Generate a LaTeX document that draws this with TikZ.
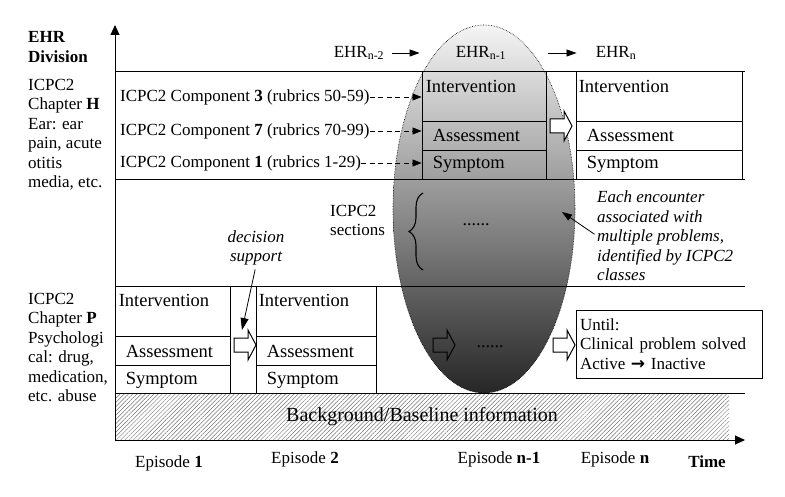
\documentclass[tikz,border=0pt]{standalone}
\usepackage{fontspec}
\setmainfont{Liberation Serif}
\newfontfamily\dejavu{DejaVu Sans}
\usetikzlibrary{arrows.meta,shapes.geometric,patterns.meta,decorations.pathreplacing,calc}
\begin{document}
\begin{tikzpicture}[x=1pt,y=-1pt,
  every node/.style={inner sep=0pt, font=\fontsize{17}{19.4}\selectfont},
  it/.style={font=\fontsize{17}{19.4}\selectfont\itshape},
  boxlbl/.style={anchor=west, font=\fontsize{18.5}{21}\selectfont},
  cell/.style={draw, line width=0.9pt, inner sep=0pt},
  rule/.style={line width=0.9pt},
  arr/.style={line width=0.8pt, -{Triangle[length=10pt,width=7pt]}},
  dasharr/.style={line width=0.8pt, dash pattern=on 5pt off 3.5pt, -{Triangle[length=9pt,width=7pt]}},
  axis/.style={line width=1pt, -{Triangle[length=10pt,width=9pt]}},
  pics/harrow/.style={code={\draw[line width=1pt, fill=#1] (0,-7) -- (14,-7) -- (14,-15) -- (22,0) -- (14,15) -- (14,7) -- (0,7) -- cycle;}}
]
\useasboundingbox (0,0) rectangle (785,497);

% shaded ellipse
\node[ellipse, draw, densely dotted, line width=0.6pt, minimum width=182pt, minimum height=368pt,
  top color=black!4, middle color=black!25, bottom color=black!85] (ell) at (484,209) {};

% hatched background
\fill[pattern={Lines[angle=45, distance=3pt, line width=0.5pt]}, pattern color=black!55] (115,393) rectangle (729,440);
\node[font=\fontsize{20}{22}\selectfont] (bg) at (422,417) {Background/Baseline information};

% horizontal rules
\draw[rule] (115,71) -- (745,71);
\draw[rule] (115,179) -- (745,179);
\draw[rule] (115,286) -- (745,286);
\draw[rule] (115,393) -- (745,393);

% axes
\coordinate (O) at (115,440);
\coordinate (ytip) at (115,25);
\coordinate (xtip) at (745,440);
\draw[axis] (O) -- (ytip);
\draw[axis] (O) -- (xtip);

% left labels
\node[anchor=north west, align=left, font=\fontsize{17}{20}\selectfont\bfseries] (hdiv) at (28,31) {EHR\\Division};
\node[anchor=north west, align=left] (hlab) at (28,79) {ICPC2\\Chapter \textbf{H}\\Ear: ear\\pain, acute\\otitis\\media, etc.};
\node[anchor=north west, align=left] (plab) at (28,293) {ICPC2\\Chapter \textbf{P}\\Psychologi\\cal: drug,\\medication,\\etc. abuse};

% EHR labels
\node (e2) at (359,53) {EHR\textsubscript{n-2}};
\node (e1) at (481,53) {EHR\textsubscript{n-1}};
\node (en) at (616,53) {EHR\textsubscript{n}};
\draw[arr, shorten <=8pt, shorten >=36pt] (e2.east) -- (e1.west);
\draw[arr, shorten <=42pt, shorten >=19pt] (e1.east) -- (en.west);

% EHR n-1 box
\node[cell, minimum width=124pt, minimum height=50pt] (ai) at (484,96) {};
\node[cell, minimum width=124pt, minimum height=29pt] (aa) at (484,135.5) {};
\node[cell, minimum width=124pt, minimum height=29pt] (as) at (484,164.5) {};
\node[boxlbl] (ait) at ($(ai.north west)+(4,16)$) {Intervention};
\node[boxlbl] (aat) at ($(aa.west)+(11,0)$) {Assessment};
\node[boxlbl] (ast) at ($(as.west)+(11,0)$) {Symptom};

% EHR n box
\node[cell, minimum width=166pt, minimum height=50pt] (bi) at (659,96) {};
\node[cell, minimum width=166pt, minimum height=29pt] (ba) at (659,135.5) {};
\node[cell, minimum width=166pt, minimum height=29pt] (bs) at (659,164.5) {};
\node[boxlbl] (bit) at ($(bi.north west)+(3,16)$) {Intervention};
\node[boxlbl] (bat) at ($(ba.west)+(11,0)$) {Assessment};
\node[boxlbl] (bst) at ($(bs.west)+(11,0)$) {Symptom};

% component labels
\node[anchor=west] (c3) at (120,97) {ICPC2 Component \textbf{3} (rubrics 50-59)};
\node[anchor=west] (c7) at (120,131) {ICPC2 Component \textbf{7} (rubrics 70-99)};
\node[anchor=west] (c1) at (120,163) {ICPC2 Component \textbf{1} (rubrics 1-29)};
\draw[dasharr] (c3.east) -- (c3.east -| ai.west);
\draw[dasharr] (c7.east) -- (c7.east -| aa.west);
\draw[dasharr] (c1.east) -- (c1.east -| as.west);

% hollow arrow top
\pic at (550,126) {harrow=white};

% middle row
\node[anchor=north west, align=left] (sec) at (330,205) {ICPC2\\sections};
\draw[line width=1.1pt, decorate, decoration={brace, amplitude=14pt}] (423,270) -- (423,193);
\node[font=\fontsize{18}{20}\selectfont] (dots1) at (476,225) {......};
\node[it, anchor=north west, align=left] (ee) at (597,191) {Each encounter\\associated with\\multiple problems,\\identified by ICPC2\\classes};
\coordinate (eetip) at (562,212);
\draw[arr, shorten <=3pt] (ee.west) -- (eetip);

% lower episode 1
\node[cell, minimum width=115pt, minimum height=50pt] (pi) at (172.5,311) {};
\node[cell, minimum width=115pt, minimum height=29pt] (pa) at (172.5,350.5) {};
\node[cell, minimum width=115pt, minimum height=28pt] (ps) at (172.5,379) {};
\node[boxlbl] (pit) at ($(pi.north west)+(4,15)$) {Intervention};
\node[boxlbl] (pat) at ($(pa.west)+(11,1)$) {Assessment};
\node[boxlbl] (pst) at ($(ps.west)+(11,1)$) {Symptom};

% lower episode 2
\node[cell, minimum width=120pt, minimum height=50pt] (qi) at (316,311) {};
\node[cell, minimum width=120pt, minimum height=29pt] (qa) at (316,350.5) {};
\node[cell, minimum width=120pt, minimum height=28pt] (qs) at (316,379) {};
\node[boxlbl] (qit) at ($(qi.north west)+(3,15)$) {Intervention};
\node[boxlbl] (qat) at ($(qa.west)+(11,1)$) {Assessment};
\node[boxlbl] (qst) at ($(qs.west)+(11,1)$) {Symptom};

\pic at (234,345) {harrow=white};

% decision support
\node[it, align=center] (ds) at (256,248) {decision\\support};
\coordinate (dstip) at (242,330);
\draw[line width=0.8pt, -{Triangle[length=12pt,width=8pt]}, shorten <=4pt] (ds.south) -- (dstip);

% lower right
\pic at (433,345) {harrow=none};
\node[font=\fontsize{18}{20}\selectfont] (dots2) at (490,347) {......};
\pic at (553,345) {harrow=white};
\node[draw, line width=0.9pt, align=left, text width=178pt, minimum width=186pt, minimum height=68pt] (until) at (669,344)
  {Until:\\Clinical problem solved\\Active {\dejavu\bfseries →} Inactive};

% episodes
\node (ep1) at (169,463) {Episode \textbf{1}};
\node (ep2) at (305,459) {Episode \textbf{2}};
\node (epn1) at (499,459) {Episode \textbf{n-1}};
\node (epn) at (615,459) {Episode \textbf{n}};
\node (time) at (707,462) {\textbf{Time}};
\end{tikzpicture}
\end{document}
